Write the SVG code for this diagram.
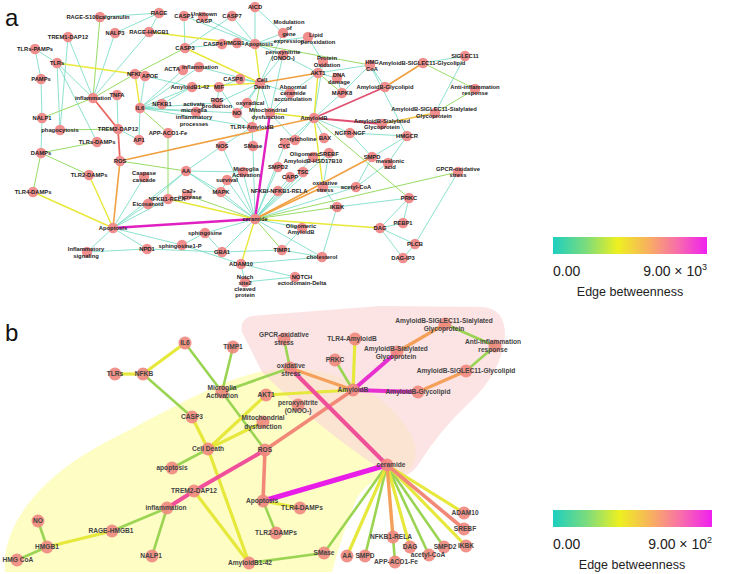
<svg xmlns="http://www.w3.org/2000/svg" width="735" height="574" viewBox="0 0 735 574">
<defs>
<linearGradient id="eb" x1="0" y1="0" x2="1" y2="0">
<stop offset="0" stop-color="#1ccfc0"/>
<stop offset="0.22" stop-color="#7fdc7a"/>
<stop offset="0.42" stop-color="#eef020"/>
<stop offset="0.62" stop-color="#f8b060"/>
<stop offset="0.8" stop-color="#f870a8"/>
<stop offset="1" stop-color="#f020f0"/>
</linearGradient>
<style>
.t{stroke:#6fd9c2;stroke-width:.8;fill:none}
.g{stroke:#98dc66;stroke-width:1;fill:none}
.y{stroke:#e8e838;stroke-width:1.4;fill:none}
.o{stroke:#f0a040;stroke-width:1.6;fill:none}
.r{stroke:#e8645e;stroke-width:1.8;fill:none}
.m{stroke:#e020c0;stroke-width:2.4;fill:none}
.bg{stroke:#9ad452;stroke-width:2.6;fill:none}
.by{stroke:#e6e83c;stroke-width:3.2;fill:none}
.bs{stroke:#f28878;stroke-width:3.6;fill:none}
.bo{stroke:#f5a05a;stroke-width:3.4;fill:none}
.bp{stroke:#f0509a;stroke-width:4;fill:none}
.bm{stroke:#e830d0;stroke-width:4;fill:none}
.bM{stroke:#e81ee8;stroke-width:5;fill:none}
.na circle{fill:#f08e8e}
.na text{font-family:"Liberation Sans",Arial,sans-serif;font-weight:bold;font-size:5.8px;fill:#222;text-anchor:middle}
.nb circle{fill:#f08a80;opacity:.92}
.nb text{font-family:"Liberation Sans",Arial,sans-serif;font-weight:bold;font-size:6.6px;fill:#444;text-anchor:middle}
.lg{font-family:"Liberation Sans",Arial,sans-serif;font-size:14px;fill:#222}
.lt{font-family:"Liberation Sans",Arial,sans-serif;font-size:12.5px;fill:#222}
.pl{font-family:"Liberation Sans",Arial,sans-serif;font-size:24px;fill:#111}
</style>
</defs>
<rect width="735" height="574" fill="#ffffff"/>
<text class="pl" x="5" y="26">a</text>
<text class="pl" x="5" y="341">b</text>

<g id="panel-b-background">
<path d="M5,572 C0,520 50,470 110,440 C170,410 220,378 270,370 C330,362 380,390 405,425 C420,445 420,470 400,474 C380,477 366,482 356,500 C346,525 338,550 332,572 Z" fill="#fdfdc4"/>
<path d="M252,316 Q240,318 242,332 L262,372 Q320,430 388,474 Q408,482 420,462 Q440,430 470,402 Q502,372 505,335 Q505,308 482,307 L380,306 Z" fill="#fbd8d8" opacity="0.7"/>
</g>

<g id="connectors">
<!-- panel a -->
<line class="t" x1="100" y1="17" x2="159" y2="13"/>
<line class="t" x1="159" y1="13" x2="115" y2="33"/>
<line class="t" x1="159" y1="13" x2="149" y2="32"/>
<line class="t" x1="115" y1="33" x2="93" y2="98"/>
<line class="t" x1="149" y1="32" x2="93" y2="98"/>
<line class="t" x1="68" y1="37" x2="93" y2="98"/>
<line class="t" x1="68" y1="37" x2="60" y2="130"/>
<line class="t" x1="35" y1="49" x2="57" y2="63"/>
<line class="t" x1="35" y1="49" x2="41" y2="79"/>
<line class="t" x1="57" y1="63" x2="93" y2="98"/>
<line class="t" x1="57" y1="63" x2="60" y2="130"/>
<line class="t" x1="57" y1="63" x2="97" y2="142"/>
<line class="t" x1="41" y1="79" x2="42" y2="118"/>
<line class="t" x1="42" y1="118" x2="41" y2="153"/>
<line class="t" x1="117" y1="95" x2="118" y2="129"/>
<line class="t" x1="135" y1="74" x2="145" y2="76"/>
<line class="t" x1="145" y1="76" x2="192" y2="87"/>
<line class="t" x1="145" y1="76" x2="140" y2="108"/>
<line class="t" x1="140" y1="108" x2="162" y2="104"/>
<line class="t" x1="140" y1="108" x2="139" y2="140"/>
<line class="t" x1="140" y1="108" x2="196" y2="112"/>
<line class="t" x1="140" y1="108" x2="237" y2="113"/>
<line class="t" x1="140" y1="108" x2="217" y2="103"/>
<line class="t" x1="140" y1="108" x2="192" y2="87"/>
<line class="t" x1="140" y1="108" x2="199" y2="67"/>
<line class="t" x1="140" y1="108" x2="252" y2="127"/>
<line class="t" x1="140" y1="108" x2="183" y2="70"/>
<line class="t" x1="162" y1="104" x2="192" y2="87"/>
<line class="t" x1="139" y1="140" x2="118" y2="129"/>
<line class="t" x1="113" y1="228" x2="87" y2="252"/>
<line class="t" x1="113" y1="228" x2="147" y2="249"/>
<line class="t" x1="113" y1="228" x2="182" y2="245"/>
<line class="t" x1="113" y1="228" x2="144" y2="177"/>
<line class="t" x1="113" y1="228" x2="148" y2="204"/>
<line class="t" x1="113" y1="228" x2="168" y2="199"/>
<line class="t" x1="113" y1="228" x2="186" y2="171"/>
<line class="t" x1="87" y1="252" x2="147" y2="249"/>
<line class="t" x1="147" y1="249" x2="222" y2="252"/>
<line class="t" x1="182" y1="245" x2="205" y2="233"/>
<line class="t" x1="182" y1="245" x2="241" y2="264"/>
<line class="t" x1="148" y1="204" x2="186" y2="171"/>
<line class="t" x1="186" y1="171" x2="221" y2="192"/>
<line class="t" x1="186" y1="171" x2="222" y2="146"/>
<line class="t" x1="186" y1="171" x2="255" y2="219"/>
<line class="t" x1="186" y1="171" x2="243" y2="172"/>
<line class="t" x1="184" y1="16" x2="185" y2="48"/>
<line class="t" x1="184" y1="16" x2="255" y2="44"/>
<line class="t" x1="203" y1="17" x2="255" y2="44"/>
<line class="t" x1="232" y1="16" x2="255" y2="44"/>
<line class="t" x1="232" y1="16" x2="185" y2="48"/>
<line class="t" x1="255" y1="7" x2="255" y2="44"/>
<line class="t" x1="255" y1="7" x2="283" y2="33"/>
<line class="t" x1="185" y1="48" x2="222" y2="44"/>
<line class="t" x1="237" y1="43" x2="255" y2="44"/>
<line class="t" x1="255" y1="44" x2="283" y2="33"/>
<line class="t" x1="255" y1="44" x2="308" y2="37"/>
<line class="t" x1="255" y1="44" x2="283" y2="55"/>
<line class="t" x1="308" y1="37" x2="323" y2="62"/>
<line class="t" x1="283" y1="33" x2="260" y2="83"/>
<line class="t" x1="283" y1="55" x2="260" y2="83"/>
<line class="t" x1="283" y1="55" x2="270" y2="113"/>
<line class="t" x1="283" y1="55" x2="318" y2="73"/>
<line class="t" x1="323" y1="62" x2="318" y2="73"/>
<line class="t" x1="323" y1="62" x2="314" y2="118"/>
<line class="t" x1="370" y1="65" x2="385" y2="87"/>
<line class="t" x1="370" y1="65" x2="407" y2="136"/>
<line class="t" x1="370" y1="65" x2="342" y2="93"/>
<line class="t" x1="370" y1="65" x2="318" y2="73"/>
<line class="t" x1="199" y1="67" x2="260" y2="83"/>
<line class="t" x1="240" y1="79" x2="260" y2="83"/>
<line class="t" x1="260" y1="83" x2="217" y2="103"/>
<line class="t" x1="260" y1="83" x2="247" y2="103"/>
<line class="t" x1="260" y1="83" x2="270" y2="113"/>
<line class="t" x1="260" y1="83" x2="290" y2="93"/>
<line class="t" x1="260" y1="83" x2="237" y2="113"/>
<line class="t" x1="318" y1="73" x2="337" y2="78"/>
<line class="t" x1="318" y1="73" x2="290" y2="93"/>
<line class="t" x1="337" y1="78" x2="342" y2="93"/>
<line class="t" x1="465" y1="56" x2="423" y2="63"/>
<line class="t" x1="465" y1="56" x2="435" y2="113"/>
<line class="t" x1="314" y1="118" x2="342" y2="93"/>
<line class="t" x1="314" y1="118" x2="350" y2="133"/>
<line class="t" x1="314" y1="118" x2="324" y2="138"/>
<line class="t" x1="314" y1="118" x2="295" y2="140"/>
<line class="t" x1="314" y1="118" x2="285" y2="144"/>
<line class="t" x1="350" y1="133" x2="407" y2="136"/>
<line class="t" x1="350" y1="133" x2="372" y2="157"/>
<line class="t" x1="407" y1="136" x2="388" y2="163"/>
<line class="t" x1="407" y1="136" x2="372" y2="157"/>
<line class="t" x1="237" y1="113" x2="247" y2="103"/>
<line class="t" x1="237" y1="113" x2="252" y2="127"/>
<line class="t" x1="237" y1="113" x2="219" y2="87"/>
<line class="t" x1="219" y1="87" x2="240" y2="79"/>
<line class="t" x1="219" y1="87" x2="217" y2="103"/>
<line class="t" x1="252" y1="127" x2="222" y2="146"/>
<line class="t" x1="252" y1="127" x2="253" y2="146"/>
<line class="t" x1="270" y1="113" x2="290" y2="93"/>
<line class="t" x1="270" y1="113" x2="295" y2="140"/>
<line class="t" x1="255" y1="219" x2="253" y2="146"/>
<line class="t" x1="255" y1="219" x2="222" y2="146"/>
<line class="t" x1="255" y1="219" x2="278" y2="167"/>
<line class="t" x1="255" y1="219" x2="290" y2="177"/>
<line class="t" x1="255" y1="219" x2="303" y2="172"/>
<line class="t" x1="255" y1="219" x2="278" y2="191"/>
<line class="t" x1="255" y1="219" x2="221" y2="192"/>
<line class="t" x1="255" y1="219" x2="227" y2="180"/>
<line class="t" x1="255" y1="219" x2="205" y2="233"/>
<line class="t" x1="255" y1="219" x2="222" y2="252"/>
<line class="t" x1="255" y1="219" x2="243" y2="172"/>
<line class="t" x1="255" y1="219" x2="302" y2="228"/>
<line class="t" x1="255" y1="219" x2="356" y2="187"/>
<line class="t" x1="255" y1="219" x2="313" y2="157"/>
<line class="t" x1="255" y1="219" x2="329" y2="153"/>
<line class="t" x1="255" y1="219" x2="285" y2="144"/>
<line class="t" x1="255" y1="219" x2="322" y2="257"/>
<line class="t" x1="323" y1="187" x2="356" y2="187"/>
<line class="t" x1="323" y1="187" x2="337" y2="207"/>
<line class="t" x1="323" y1="187" x2="329" y2="153"/>
<line class="t" x1="356" y1="187" x2="372" y2="157"/>
<line class="t" x1="356" y1="187" x2="388" y2="163"/>
<line class="t" x1="337" y1="207" x2="409" y2="198"/>
<line class="t" x1="337" y1="207" x2="322" y2="257"/>
<line class="t" x1="409" y1="198" x2="403" y2="223"/>
<line class="t" x1="409" y1="198" x2="380" y2="228"/>
<line class="t" x1="380" y1="228" x2="403" y2="223"/>
<line class="t" x1="380" y1="228" x2="415" y2="244"/>
<line class="t" x1="380" y1="228" x2="403" y2="258"/>
<line class="t" x1="415" y1="244" x2="403" y2="258"/>
<line class="t" x1="415" y1="244" x2="458" y2="172"/>
<line class="t" x1="282" y1="250" x2="302" y2="228"/>
<line class="t" x1="282" y1="250" x2="322" y2="257"/>
<line class="t" x1="241" y1="264" x2="245" y2="282"/>
<line class="t" x1="241" y1="264" x2="295" y2="277"/>
<line class="t" x1="241" y1="264" x2="322" y2="257"/>
<line class="t" x1="245" y1="282" x2="295" y2="277"/>
<line class="t" x1="205" y1="233" x2="222" y2="252"/>
<line class="t" x1="227" y1="180" x2="221" y2="192"/>
<line class="t" x1="227" y1="180" x2="243" y2="172"/>
<line class="t" x1="222" y1="252" x2="282" y2="250"/>
<line class="g" x1="100" y1="17" x2="93" y2="98"/>
<line class="g" x1="42" y1="118" x2="93" y2="98"/>
<line class="g" x1="93" y1="98" x2="135" y2="74"/>
<line class="g" x1="135" y1="74" x2="185" y2="48"/>
<line class="g" x1="60" y1="130" x2="118" y2="129"/>
<line class="g" x1="140" y1="108" x2="168" y2="133"/>
<line class="g" x1="120" y1="161" x2="186" y2="171"/>
<line class="g" x1="97" y1="142" x2="41" y2="153"/>
<line class="g" x1="41" y1="153" x2="89" y2="175"/>
<line class="g" x1="41" y1="153" x2="33" y2="192"/>
<line class="g" x1="168" y1="199" x2="168" y2="133"/>
<line class="g" x1="255" y1="44" x2="370" y2="65"/>
<line class="g" x1="423" y1="63" x2="475" y2="89"/>
<line class="g" x1="435" y1="113" x2="475" y2="89"/>
<line class="g" x1="318" y1="73" x2="342" y2="93"/>
<line class="g" x1="260" y1="83" x2="252" y2="127"/>
<line class="g" x1="314" y1="118" x2="409" y2="198"/>
<line class="g" x1="255" y1="219" x2="337" y2="207"/>
<line class="g" x1="255" y1="219" x2="458" y2="172"/>
<line class="g" x1="255" y1="219" x2="282" y2="250"/>
<line class="g" x1="187" y1="195" x2="255" y2="219"/>
<line class="y" x1="149" y1="32" x2="237" y2="43"/>
<line class="y" x1="57" y1="63" x2="135" y2="74"/>
<line class="y" x1="135" y1="74" x2="140" y2="108"/>
<line class="y" x1="185" y1="48" x2="260" y2="83"/>
<line class="y" x1="255" y1="44" x2="260" y2="83"/>
<line class="y" x1="192" y1="87" x2="260" y2="83"/>
<line class="y" x1="318" y1="73" x2="314" y2="118"/>
<line class="y" x1="270" y1="113" x2="314" y2="118"/>
<line class="y" x1="314" y1="118" x2="323" y2="187"/>
<line class="y" x1="89" y1="175" x2="113" y2="228"/>
<line class="y" x1="33" y1="192" x2="113" y2="228"/>
<line class="y" x1="168" y1="199" x2="255" y2="219"/>
<line class="y" x1="255" y1="219" x2="241" y2="264"/>
<line class="y" x1="255" y1="219" x2="380" y2="228"/>
<line class="o" x1="382" y1="124" x2="435" y2="113" style="stroke:#f0c040"/>
<line class="o" x1="260" y1="83" x2="318" y2="73"/>
<line class="o" x1="120" y1="161" x2="314" y2="118"/>
<line class="o" x1="120" y1="161" x2="113" y2="228"/>
<line class="o" x1="385" y1="87" x2="423" y2="63"/>
<line class="o" x1="255" y1="219" x2="323" y2="187"/>
<line class="o" x1="255" y1="219" x2="372" y2="157"/>
<line class="r" x1="93" y1="98" x2="118" y2="129"/>
<line class="r" x1="118" y1="129" x2="120" y2="161"/>
<line class="r" x1="314" y1="118" x2="385" y2="87" style="stroke:#e05070"/>
<line class="r" x1="314" y1="118" x2="382" y2="124" style="stroke:#e05070"/>
<line class="m" x1="113" y1="228" x2="255" y2="219"/>
<line class="m" x1="270" y1="113" x2="255" y2="219"/>
<!-- panel b -->
<line class="bg" x1="143" y1="374" x2="192" y2="417"/>
<line class="bg" x1="185" y1="343" x2="222" y2="392"/>
<line class="bg" x1="233" y1="347" x2="222" y2="392"/>
<line class="bg" x1="222" y1="392" x2="290" y2="368"/>
<line class="bg" x1="222" y1="392" x2="265" y2="450"/>
<line class="bg" x1="284" y1="339" x2="290" y2="368"/>
<line class="bg" x1="335" y1="360" x2="353" y2="390"/>
<line class="bg" x1="445" y1="324" x2="495" y2="346"/>
<line class="bg" x1="495" y1="346" x2="466" y2="371"/>
<line class="bg" x1="263" y1="501" x2="276" y2="533"/>
<line class="bg" x1="208" y1="449" x2="172" y2="468"/>
<line class="bg" x1="249" y1="563" x2="324" y2="553"/>
<line class="bg" x1="324" y1="553" x2="387" y2="465"/>
<line class="bg" x1="167" y1="508" x2="152" y2="556"/>
<line class="bg" x1="167" y1="508" x2="112" y2="531"/>
<line class="bg" x1="47" y1="547" x2="38" y2="521"/>
<line class="bg" x1="47" y1="547" x2="17" y2="560"/>
<line class="bg" x1="387" y1="465" x2="444" y2="547"/>
<line class="bg" x1="387" y1="465" x2="429" y2="555"/>
<line class="bg" x1="387" y1="465" x2="365" y2="556"/>
<line class="bg" x1="393" y1="537" x2="395" y2="562"/>
<line class="by" x1="115" y1="374" x2="143" y2="374"/>
<line class="by" x1="143" y1="374" x2="185" y2="343"/>
<line class="by" x1="355" y1="339" x2="353" y2="390"/>
<line class="by" x1="266" y1="395" x2="353" y2="390"/>
<line class="by" x1="266" y1="395" x2="208" y2="449"/>
<line class="by" x1="263" y1="422" x2="208" y2="449"/>
<line class="by" x1="263" y1="501" x2="300" y2="508"/>
<line class="by" x1="208" y1="449" x2="249" y2="563"/>
<line class="by" x1="192" y1="417" x2="208" y2="449"/>
<line class="by" x1="194" y1="491" x2="249" y2="563"/>
<line class="by" x1="112" y1="531" x2="47" y2="547"/>
<line class="by" x1="387" y1="465" x2="464" y2="513"/>
<line class="by" x1="387" y1="465" x2="466" y2="546"/>
<line class="by" x1="387" y1="465" x2="410" y2="547"/>
<line class="by" x1="387" y1="465" x2="347" y2="556"/>
<line class="bo" x1="290" y1="368" x2="353" y2="390"/>
<line class="bo" x1="397" y1="352" x2="445" y2="324"/>
<line class="bo" x1="466" y1="371" x2="418" y2="392"/>
<line class="bo" x1="387" y1="465" x2="393" y2="537"/>
<line class="bs" x1="353" y1="390" x2="265" y2="450"/>
<line class="bs" x1="265" y1="450" x2="263" y2="501"/>
<line class="bs" x1="387" y1="465" x2="464" y2="529"/>
<line class="bp" x1="290" y1="368" x2="387" y2="465"/>
<line class="bp" x1="194" y1="491" x2="265" y2="450"/>
<line class="bp" x1="167" y1="508" x2="194" y2="491"/>
<line class="bm" x1="353" y1="390" x2="397" y2="352"/>
<line class="bm" x1="353" y1="390" x2="418" y2="392"/>
<line class="bM" x1="263" y1="501" x2="387" y2="465"/>
</g>

<g id="nodes-a" class="na">
<g id="a-rage-s100"><circle cx="100" cy="17" r="5.2"/><text x="98" y="19">RAGE-S100calgranulin</text></g>
<g id="a-rage"><circle cx="159" cy="13" r="5.2"/><text x="159" y="15">RAGE</text></g>
<g id="a-casp1"><circle cx="184" cy="16" r="5.2"/><text x="184" y="18">CASP1</text></g>
<g id="a-unknown-casp"><circle cx="203" cy="17" r="5.2"/><text x="204" y="16">Unknown</text><text x="204" y="23">CASP</text></g>
<g id="a-casp7"><circle cx="232" cy="16" r="5.2"/><text x="232" y="18">CASP7</text></g>
<g id="a-aicd"><circle cx="255" cy="7" r="5.2"/><text x="255" y="9">AICD</text></g>
<g id="a-modulation"><circle cx="283" cy="33" r="5.2"/><text x="289" y="24">Modulation</text><text x="289" y="30">of</text><text x="289" y="36">gene</text><text x="289" y="43">expression</text></g>
<g id="a-lipid"><circle cx="308" cy="37" r="5.2"/><text x="316" y="37">Lipid</text><text x="318" y="44">peroxidation</text></g>
<g id="a-nalp3"><circle cx="115" cy="33" r="5.2"/><text x="115" y="35">NALP3</text></g>
<g id="a-rage-hmgb1"><circle cx="149" cy="32" r="5.2"/><text x="149" y="34">RAGE-HMGB1</text></g>
<g id="a-trem1"><circle cx="68" cy="37" r="5.2"/><text x="68" y="39">TREM1-DAP12</text></g>
<g id="a-tlrs-pamps"><circle cx="35" cy="49" r="5.2"/><text x="35" y="51">TLRs-PAMPs</text></g>
<g id="a-casp3"><circle cx="185" cy="48" r="5.2"/><text x="185" y="50">CASP3</text></g>
<g id="a-casp6"><circle cx="222" cy="44" r="5.2"/><text x="213" y="46">CASP6</text></g>
<g id="a-hmgb1"><circle cx="237" cy="43" r="5.2"/><text x="234" y="45">HMGB1</text></g>
<g id="a-apoptosis-top"><circle cx="255" cy="44" r="5.2"/><text x="259" y="46">Apoptosis</text></g>
<g id="a-peroxynitrite"><circle cx="283" cy="55" r="5.2"/><text x="283" y="54">peroxynitrite</text><text x="283" y="60">(ONOO-)</text></g>
<g id="a-protein-ox"><circle cx="323" cy="62" r="5.2"/><text x="327" y="60">Protein</text><text x="327" y="67">Oxidation</text></g>
<g id="a-hmgcoa"><circle cx="370" cy="65" r="5.2"/><text x="372" y="64">HMG</text><text x="372" y="71">CoA</text></g>
<g id="a-ab-siglec11-glycolipid"><circle cx="423" cy="63" r="5.2"/><text x="422" y="65">AmyloidB-SIGLEC11-Glycolipid</text></g>
<g id="a-siglec11"><circle cx="465" cy="56" r="5.2"/><text x="465" y="58">SIGLEC11</text></g>
<g id="a-tlrs"><circle cx="57" cy="63" r="5.2"/><text x="57" y="65">TLRs</text></g>
<g id="a-nfkb"><circle cx="135" cy="74" r="5.2"/><text x="135" y="76">NFKB</text></g>
<g id="a-apoe"><circle cx="145" cy="76" r="5.2"/><text x="150" y="78">APOE</text></g>
<g id="a-acta"><circle cx="183" cy="70" r="5.2"/><text x="172" y="71">ACTA</text></g>
<g id="a-inflammation2"><circle cx="199" cy="67" r="5.2"/><text x="200" y="69">inflammation</text></g>
<g id="a-akt1"><circle cx="318" cy="73" r="5.2"/><text x="318" y="75">AKT1</text></g>
<g id="a-dna"><circle cx="337" cy="78" r="5.2"/><text x="339" y="77">DNA</text><text x="339" y="84">damage</text></g>
<g id="a-pamps"><circle cx="41" cy="79" r="5.2"/><text x="41" y="81">PAMPs</text></g>
<g id="a-casp8"><circle cx="240" cy="79" r="5.2"/><text x="233" y="81">CASP8</text></g>
<g id="a-celldeath"><circle cx="260" cy="83" r="5.2"/><text x="262" y="82">Cell</text><text x="262" y="89">Death</text></g>
<g id="a-ab142"><circle cx="192" cy="87" r="5.2"/><text x="190" y="89">AmyloidB1-42</text></g>
<g id="a-mif"><circle cx="219" cy="87" r="5.2"/><text x="219" y="89">MIF</text></g>
<g id="a-abnormal"><circle cx="290" cy="93" r="5.2"/><text x="293" y="89">Abnormal</text><text x="293" y="95">ceramide</text><text x="293" y="101">accumulation</text></g>
<g id="a-mapk8"><circle cx="342" cy="93" r="5.2"/><text x="342" y="95">MAPK8</text></g>
<g id="a-ab-glycolipid"><circle cx="385" cy="87" r="5.2"/><text x="385" y="89">AmyloidB-Glycolipid</text></g>
<g id="a-anti"><circle cx="475" cy="89" r="5.2"/><text x="475" y="89">Anti-inflammation</text><text x="475" y="95">response</text></g>
<g id="a-inflammation"><circle cx="93" cy="98" r="5.2"/><text x="93" y="100">inflammation</text></g>
<g id="a-tnfa"><circle cx="117" cy="95" r="5.2"/><text x="117" y="97">TNFA</text></g>
<g id="a-il6"><circle cx="140" cy="108" r="5.2"/><text x="140" y="110">IL6</text></g>
<g id="a-nfkb1"><circle cx="162" cy="104" r="5.2"/><text x="162" y="106">NFKB1</text></g>
<g id="a-activate"><circle cx="196" cy="112" r="5.2"/><text x="194" y="106">activate</text><text x="194" y="112">microglia</text><text x="194" y="119">inflammatory</text><text x="194" y="126">processes</text></g>
<g id="a-ros-production"><circle cx="217" cy="103" r="5.2"/><text x="217" y="102">ROS</text><text x="217" y="108">production</text></g>
<g id="a-oxyradical"><circle cx="247" cy="103" r="5.2"/><text x="250" y="105">oxyradical</text></g>
<g id="a-no"><circle cx="237" cy="113" r="5.2"/><text x="237" y="115">NO</text></g>
<g id="a-mito"><circle cx="270" cy="113" r="5.2"/><text x="268" y="112">Mitochondrial</text><text x="268" y="119">dysfunction</text></g>
<g id="a-amyloidb"><circle cx="314" cy="118" r="5.2"/><text x="314" y="120">AmyloidB</text></g>
<g id="a-nalp1"><circle cx="42" cy="118" r="5.2"/><text x="42" y="120">NALP1</text></g>
<g id="a-ab-siglec11-sialylated"><circle cx="435" cy="113" r="5.2"/><text x="434" y="111">AmyloidB-SIGLEC11-Sialylated</text><text x="434" y="118">Glycoprotein</text></g>
<g id="a-ab-sialylated"><circle cx="382" cy="124" r="5.2"/><text x="382" y="123">AmyloidB-Sialylated</text><text x="382" y="129">Glycoprotein</text></g>
<g id="a-tlr4-amyloidb"><circle cx="252" cy="127" r="5.2"/><text x="252" y="129">TLR4-AmyloidB</text></g>
<g id="a-phagocytosis"><circle cx="60" cy="130" r="5.2"/><text x="60" y="132">phagocytosis</text></g>
<g id="a-trem2"><circle cx="118" cy="129" r="5.2"/><text x="118" y="131">TREM2-DAP12</text></g>
<g id="a-app-aco1"><circle cx="168" cy="133" r="5.2"/><text x="168" y="135">APP-ACO1-Fe</text></g>
<g id="a-ngfr"><circle cx="350" cy="133" r="5.2"/><text x="350" y="135">NGFR-NGF</text></g>
<g id="a-hmgcr"><circle cx="407" cy="136" r="5.2"/><text x="407" y="138">HMGCR</text></g>
<g id="a-ap1"><circle cx="139" cy="140" r="5.2"/><text x="139" y="142">AP1</text></g>
<g id="a-tlrs-damps"><circle cx="97" cy="142" r="5.2"/><text x="97" y="144">TLRs-DAMPs</text></g>
<g id="a-acetylcholine"><circle cx="295" cy="140" r="5.2"/><text x="298" y="141">acetylcholine</text></g>
<g id="a-cyc"><circle cx="285" cy="144" r="5.2"/><text x="284" y="148">CYC</text></g>
<g id="a-bax"><circle cx="324" cy="138" r="5.2"/><text x="325" y="140">BAX</text></g>
<g id="a-nos"><circle cx="222" cy="146" r="5.2"/><text x="222" y="148">NOS</text></g>
<g id="a-smase"><circle cx="253" cy="146" r="5.2"/><text x="253" y="148">SMase</text></g>
<g id="a-damps"><circle cx="41" cy="153" r="5.2"/><text x="41" y="155">DAMPs</text></g>
<g id="a-oligomeric-hsd"><circle cx="313" cy="157" r="5.2"/><text x="305" y="156">Oligomeric</text><text x="313" y="163">AmyloidB-HSD17B10</text></g>
<g id="a-srebf"><circle cx="329" cy="153" r="5.2"/><text x="329" y="156">SREBF</text></g>
<g id="a-mevalonic"><circle cx="388" cy="163" r="5.2"/><text x="390" y="163">mevalonic</text><text x="390" y="169">acid</text></g>
<g id="a-smpd"><circle cx="372" cy="157" r="5.2"/><text x="372" y="159">SMPD</text></g>
<g id="a-ros"><circle cx="120" cy="161" r="5.2"/><text x="120" y="163">ROS</text></g>
<g id="a-smpd2"><circle cx="278" cy="167" r="5.2"/><text x="278" y="169">SMPD2</text></g>
<g id="a-microglia"><circle cx="243" cy="172" r="5.2"/><text x="246" y="171">Microglia</text><text x="246" y="177">Activation</text></g>
<g id="a-tsc"><circle cx="303" cy="172" r="5.2"/><text x="303" y="174">TSC</text></g>
<g id="a-aa"><circle cx="186" cy="171" r="5.2"/><text x="186" y="173">AA</text></g>
<g id="a-gpcr"><circle cx="458" cy="172" r="5.2"/><text x="458" y="171">GPCR-oxidative</text><text x="458" y="177">stress</text></g>
<g id="a-tlr2-damps"><circle cx="89" cy="175" r="5.2"/><text x="89" y="177">TLR2-DAMPs</text></g>
<g id="a-caspase"><circle cx="144" cy="177" r="5.2"/><text x="144" y="175">Caspase</text><text x="144" y="182">cascade</text></g>
<g id="a-capp"><circle cx="290" cy="177" r="5.2"/><text x="290" y="179">CAPP</text></g>
<g id="a-survival"><circle cx="227" cy="180" r="5.2"/><text x="227" y="182">survival</text></g>
<g id="a-oxidative"><circle cx="323" cy="187" r="5.2"/><text x="325" y="185">oxidative</text><text x="325" y="192">stress</text></g>
<g id="a-acetylcoa"><circle cx="356" cy="187" r="5.2"/><text x="356" y="189">acetyl-CoA</text></g>
<g id="a-tlr4-damps"><circle cx="33" cy="192" r="5.2"/><text x="33" y="194">TLR4-DAMPs</text></g>
<g id="a-mapk"><circle cx="221" cy="192" r="5.2"/><text x="221" y="194">MAPK</text></g>
<g id="a-ca2"><circle cx="187" cy="195" r="5.2"/><text x="189" y="193">Ca2+</text><text x="190" y="199">increase</text></g>
<g id="a-nfkbi"><circle cx="278" cy="191" r="5.2"/><text x="279" y="193">NFKBI-NFKB1-RELA</text></g>
<g id="a-prkc"><circle cx="409" cy="198" r="5.2"/><text x="409" y="200">PRKC</text></g>
<g id="a-nfkb1-rela"><circle cx="168" cy="199" r="5.2"/><text x="167" y="201">NFKB1-RELA</text></g>
<g id="a-eicosanoid"><circle cx="148" cy="204" r="5.2"/><text x="148" y="206">Eicosanoid</text></g>
<g id="a-ikbk"><circle cx="337" cy="207" r="5.2"/><text x="337" y="209">IKBK</text></g>
<g id="a-ceramide"><circle cx="255" cy="219" r="5.2"/><text x="255" y="221">ceramide</text></g>
<g id="a-pebp1"><circle cx="403" cy="223" r="5.2"/><text x="403" y="225">PEBP1</text></g>
<g id="a-oligomeric-ab"><circle cx="302" cy="228" r="5.2"/><text x="301" y="228">Oligomeric</text><text x="301" y="234">AmyloidB</text></g>
<g id="a-dag"><circle cx="380" cy="228" r="5.2"/><text x="380" y="230">DAG</text></g>
<g id="a-apoptosis"><circle cx="113" cy="228" r="5.2"/><text x="113" y="230">Apoptosis</text></g>
<g id="a-sphingosine"><circle cx="205" cy="233" r="5.2"/><text x="205" y="235">sphingosine</text></g>
<g id="a-plcb"><circle cx="415" cy="244" r="5.2"/><text x="415" y="246">PLCB</text></g>
<g id="a-s1p"><circle cx="182" cy="245" r="5.2"/><text x="180" y="248">sphingosine1-P</text></g>
<g id="a-npd1"><circle cx="147" cy="249" r="5.2"/><text x="147" y="251">NPD1</text></g>
<g id="a-infl-signaling"><circle cx="87" cy="252" r="5.2"/><text x="86" y="251">Inflammatory</text><text x="86" y="258">signaling</text></g>
<g id="a-timp1"><circle cx="282" cy="250" r="5.2"/><text x="282" y="252">TIMP1</text></g>
<g id="a-gba1"><circle cx="222" cy="252" r="5.2"/><text x="222" y="254">GBA1</text></g>
<g id="a-cholesterol"><circle cx="322" cy="257" r="5.2"/><text x="322" y="259">cholesterol</text></g>
<g id="a-dag-ip3"><circle cx="403" cy="258" r="5.2"/><text x="403" y="260">DAG-IP3</text></g>
<g id="a-adam10"><circle cx="241" cy="264" r="5.2"/><text x="241" y="266">ADAM10</text></g>
<g id="a-notch-site2"><circle cx="245" cy="282" r="5.2"/><text x="245" y="279">Notch</text><text x="245" y="285">site2</text><text x="245" y="291">cleaved</text><text x="245" y="297">protein</text></g>
<g id="a-notch-ecto"><circle cx="295" cy="277" r="5.2"/><text x="302" y="279">NOTCH</text><text x="302" y="285">ectodomain-Delta</text></g>
</g>

<g id="nodes-b" class="nb">
<g id="b-tlrs"><circle cx="115" cy="374" r="6.5"/><text x="115" y="376">TLRs</text></g>
<g id="b-nfkb"><circle cx="143" cy="374" r="6.5"/><text x="144" y="376">NFKB</text></g>
<g id="b-il6"><circle cx="185" cy="343" r="6.5"/><text x="185" y="345">IL6</text></g>
<g id="b-timp1"><circle cx="233" cy="347" r="6.5"/><text x="233" y="349">TIMP1</text></g>
<g id="b-gpcr"><circle cx="284" cy="339" r="6.5"/><text x="284" y="337">GPCR-oxidative</text><text x="284" y="345">stress</text></g>
<g id="b-tlr4-amyloidb"><circle cx="355" cy="339" r="6.5"/><text x="352" y="341">TLR4-AmyloidB</text></g>
<g id="b-prkc"><circle cx="335" cy="360" r="6.5"/><text x="335" y="362">PRKC</text></g>
<g id="b-oxidative"><circle cx="290" cy="368" r="6.5"/><text x="291" y="368">oxidative</text><text x="291" y="376">stress</text></g>
<g id="b-microglia"><circle cx="222" cy="392" r="6.5"/><text x="222" y="390">Microglia</text><text x="222" y="398">Activation</text></g>
<g id="b-akt1"><circle cx="266" cy="395" r="6.5"/><text x="266" y="397">AKT1</text></g>
<g id="b-amyloidb"><circle cx="353" cy="390" r="6.5"/><text x="353" y="392">AmyloidB</text></g>
<g id="b-peroxynitrite"><circle cx="298" cy="405" r="6.5"/><text x="298" y="405">peroxynitrite</text><text x="298" y="413">(ONOO-)</text></g>
<g id="b-casp3"><circle cx="192" cy="417" r="6.5"/><text x="192" y="419">CASP3</text></g>
<g id="b-mito"><circle cx="263" cy="422" r="6.5"/><text x="263" y="420">Mitochondrial</text><text x="263" y="429">dysfunction</text></g>
<g id="b-ab-siglec11-sialylated"><circle cx="445" cy="324" r="6.5"/><text x="444" y="323">AmyloidB-SIGLEC11-Sialylated</text><text x="444" y="331">Glycoprotein</text></g>
<g id="b-anti"><circle cx="495" cy="346" r="6.5"/><text x="493" y="344">Anti-inflammation</text><text x="493" y="352">response</text></g>
<g id="b-ab-sialylated"><circle cx="397" cy="352" r="6.5"/><text x="396" y="351">AmyloidB-Sialylated</text><text x="396" y="359">Glycoprotein</text></g>
<g id="b-ab-siglec11-glycolipid"><circle cx="466" cy="371" r="6.5"/><text x="466" y="373">AmyloidB-SIGLEC11-Glycolipid</text></g>
<g id="b-ab-glycolipid"><circle cx="418" cy="392" r="6.5"/><text x="418" y="394">AmyloidB-Glycolipid</text></g>
<g id="b-celldeath"><circle cx="208" cy="449" r="6.5"/><text x="208" y="451">Cell Death</text></g>
<g id="b-ros"><circle cx="265" cy="450" r="6.5"/><text x="265" y="452">ROS</text></g>
<g id="b-apoptosis-l"><circle cx="172" cy="468" r="6.5"/><text x="172" y="470">apoptosis</text></g>
<g id="b-trem2"><circle cx="194" cy="491" r="6.5"/><text x="194" y="493">TREM2-DAP12</text></g>
<g id="b-apoptosis"><circle cx="263" cy="501" r="6.5"/><text x="262" y="503">Apoptosis</text></g>
<g id="b-inflammation"><circle cx="167" cy="508" r="6.5"/><text x="166" y="510">inflammation</text></g>
<g id="b-tlr4-damps"><circle cx="300" cy="508" r="6.5"/><text x="302" y="510">TLR4-DAMPs</text></g>
<g id="b-no"><circle cx="38" cy="521" r="6.5"/><text x="38" y="523">NO</text></g>
<g id="b-rage-hmgb1"><circle cx="112" cy="531" r="6.5"/><text x="111" y="533">RAGE-HMGB1</text></g>
<g id="b-tlr2-damps"><circle cx="276" cy="533" r="6.5"/><text x="276" y="535">TLR2-DAMPs</text></g>
<g id="b-hmgb1"><circle cx="47" cy="547" r="6.5"/><text x="47" y="549">HMGB1</text></g>
<g id="b-nalp1"><circle cx="152" cy="556" r="6.5"/><text x="151" y="558">NALP1</text></g>
<g id="b-hmgcoa"><circle cx="17" cy="560" r="6.5"/><text x="18" y="562">HMG CoA</text></g>
<g id="b-smase"><circle cx="324" cy="553" r="6.5"/><text x="324" y="555">SMase</text></g>
<g id="b-aa"><circle cx="347" cy="556" r="6.5"/><text x="347" y="558">AA</text></g>
<g id="b-ab142"><circle cx="249" cy="563" r="6.5"/><text x="250" y="565">AmyloidB1-42</text></g>
<g id="b-smpd"><circle cx="365" cy="556" r="6.5"/><text x="365" y="558">SMPD</text></g>
<g id="b-ceramide"><circle cx="387" cy="465" r="6.5"/><text x="391" y="467">ceramide</text></g>
<g id="b-adam10"><circle cx="464" cy="513" r="6.5"/><text x="465" y="515">ADAM10</text></g>
<g id="b-srebf"><circle cx="464" cy="529" r="6.5"/><text x="465" y="531">SREBF</text></g>
<g id="b-nfkb1-rela"><circle cx="393" cy="537" r="6.5"/><text x="391" y="539">NFKB1-RELA</text></g>
<g id="b-ikbk"><circle cx="466" cy="546" r="6.5"/><text x="466" y="548">IKBK</text></g>
<g id="b-smpd2"><circle cx="444" cy="547" r="6.5"/><text x="445" y="549">SMPD2</text></g>
<g id="b-dag"><circle cx="410" cy="547" r="6.5"/><text x="410" y="549">DAG</text></g>
<g id="b-acetylcoa"><circle cx="429" cy="555" r="6.5"/><text x="428" y="557">acetyl-CoA</text></g>
<g id="b-app-aco1"><circle cx="395" cy="562" r="6.5"/><text x="396" y="564">APP-ACO1-Fe</text></g>
</g>

<g id="legend-a">
<rect x="553" y="237" width="154" height="17" fill="url(#eb)"/>
<text class="lg" x="553" y="276">0.00</text>
<text class="lg" x="707" y="276" text-anchor="end">9.00 &#215; 10<tspan font-size="9" dy="-6">3</tspan></text>
<text class="lt" x="630" y="296" text-anchor="middle">Edge betweenness</text>
</g>
<g id="legend-b">
<rect x="553" y="510" width="159" height="17" fill="url(#eb)"/>
<text class="lg" x="553" y="549">0.00</text>
<text class="lg" x="712" y="549" text-anchor="end">9.00 &#215; 10<tspan font-size="9" dy="-6">2</tspan></text>
<text class="lt" x="632" y="569" text-anchor="middle">Edge betweenness</text>
</g>
</svg>
